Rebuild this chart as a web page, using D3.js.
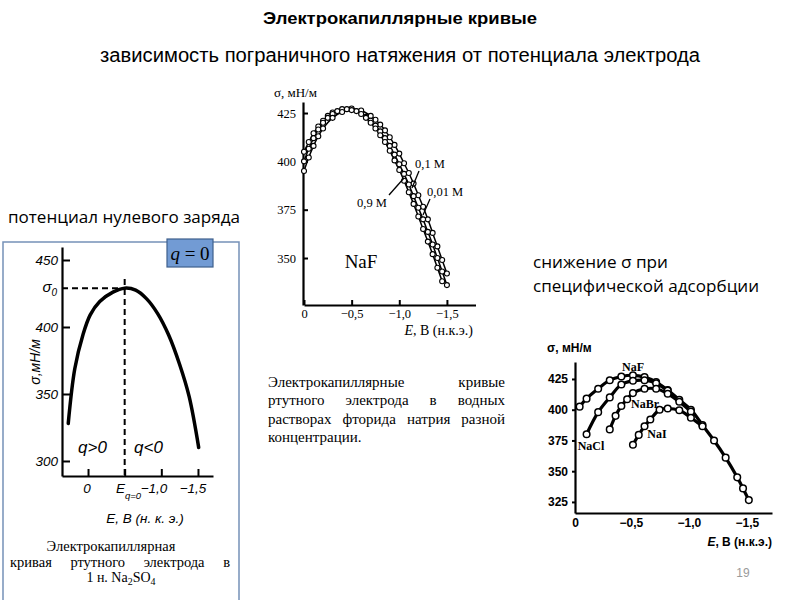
<!DOCTYPE html>
<html><head><meta charset="utf-8">
<script src="https://cdn.jsdelivr.net/npm/d3@7"></script>
<style>
html,body{margin:0;padding:0;background:#fff;}
svg{display:block;}
.serif{font-family:"Liberation Serif","DejaVu Serif",serif;}
.sans{font-family:"Liberation Sans","DejaVu Sans",sans-serif;}
</style>
</head><body>
<svg id="c" width="800" height="600"></svg>
<script>
// ---------------- DATA ----------------
// Left chart: electrocapillary curve of Hg in 1 N Na2SO4
const leftE     = [0.27, 0.18, 0.07, -0.03, -0.16, -0.34, -0.5, -0.65, -0.8, -0.95, -1.1, -1.25, -1.38, -1.51];
const leftSigma = [328, 369, 394, 409, 419, 426, 429, 427.5, 421, 410, 394, 372, 348, 310];
const leftYTicks = [300, 350, 400, 450];
const leftSigma0 = 429;
const leftEq0 = -0.5;

// Middle chart: NaF solutions of different concentration
const naf001E = [0, -0.05, -0.1, -0.15, -0.2, -0.25, -0.3, -0.4, -0.5, -0.6, -0.7, -0.75, -0.8, -0.85, -0.9, -0.95, -1.0, -1.05, -1.1, -1.15, -1.2, -1.25, -1.3, -1.35, -1.4, -1.45, -1.5];
const naf001S = [405, 410, 414.5, 418, 421, 423.5, 425.3, 427, 427.3, 426.3, 423.5, 421.5, 419, 416, 412.5, 408.5, 404, 399, 394, 388.5, 382.5, 376.5, 370, 363, 356, 349, 342];
const naf01E  = [0, -0.05, -0.1, -0.15, -0.2, -0.25, -0.3, -0.35, -0.45, -0.55, -0.65, -0.7, -0.75, -0.8, -0.85, -0.9, -0.95, -1.0, -1.05, -1.1, -1.15, -1.2, -1.25, -1.3, -1.35, -1.4, -1.45, -1.5];
const naf01S  = [400, 406.5, 412, 416.5, 420, 422.5, 424.5, 426, 427, 426, 423, 421, 418.5, 415.5, 412, 408, 403.5, 398.5, 393.5, 388, 382, 376, 370, 363.5, 357, 350, 343, 336];
const naf09E  = [0, -0.05, -0.1, -0.15, -0.2, -0.3, -0.4, -0.5, -0.6, -0.65, -0.7, -0.75, -0.8, -0.85, -0.9, -0.95, -1.0, -1.05, -1.1, -1.15, -1.2, -1.25, -1.3, -1.35, -1.4, -1.45];
const naf09S  = [395, 402, 408, 413, 417, 422.5, 425.5, 426.5, 424.5, 422.5, 420, 417, 413.5, 410, 405.5, 400.5, 395.5, 390, 384, 378, 371.5, 365, 358.5, 352, 345, 338];
const midXTicks = [0, -0.5, -1.0, -1.5];
const midXLabels = ["0", "\u22120,5", "\u22121,0", "\u22121,5"];
const midYTicks = [350, 375, 400, 425];

// Right chart: specific adsorption of halides
const rNaFE  = [-0.04, -0.1, -0.2, -0.3, -0.4, -0.5, -0.6, -0.7, -0.8, -0.9, -1.0, -1.1, -1.2, -1.3, -1.4, -1.45, -1.5];
const rNaFS  = [402.5, 409, 417, 424, 427, 428, 426.5, 422.5, 416, 408, 400, 387.5, 375, 361, 345, 336, 326.5];
const rNaClE = [-0.1, -0.2, -0.3, -0.4, -0.5, -0.6, -0.7, -0.8];
const rNaClS = [380, 398, 410, 420.5, 423.5, 424, 421.5, 415.5];
const rNaBrE = [-0.3, -0.35, -0.4, -0.45, -0.5, -0.6, -0.7, -0.8, -0.9, -1.0];
const rNaBrS = [384, 395, 403, 408.5, 413.5, 417, 417, 413, 406.5, 398.5];
const rNaIE  = [-0.5, -0.55, -0.6, -0.65, -0.73, -0.8, -0.9, -1.0, -1.1];
const rNaIS  = [371.5, 379.5, 386.5, 392, 400, 401, 399.5, 393.5, 386.5];
const rXTicks = [0, -0.5, -1.0, -1.5];
const rXLabels = ["0", "\u22120,5", "\u22121,0", "\u22121,5"];
const rYTicks = [325, 350, 375, 400, 425];

// ---------------- DRAW ----------------
const svg = d3.select("#c");
svg.append("rect").attr("width", 800).attr("height", 600).attr("fill", "#fff");

const zip = (a, b) => a.map((v, i) => [v, b[i]]);

function justify(g, text, x0, x1, y, cls, size) {
  const words = text.split(" ");
  const els = words.map(w => g.append("text").attr("class", cls).attr("font-size", size)
      .attr("y", y).text(w));
  const widths = els.map(e => e.node().getComputedTextLength());
  const total = widths.reduce((a, b) => a + b, 0);
  const gap = words.length > 1 ? (x1 - x0 - total) / (words.length - 1) : 0;
  let x = x0;
  els.forEach((e, i) => { e.attr("x", x); x += widths[i] + gap; });
}

// Titles
svg.append("text").attr("x", 400).attr("y", 24).attr("text-anchor", "middle")
  .attr("font-family", "'Liberation Sans Narrow','Liberation Sans',sans-serif")
  .attr("font-weight", "bold").attr("font-size", 17)
  .attr("textLength", 274).attr("lengthAdjust", "spacingAndGlyphs")
  .text("Электрокапиллярные кривые");
svg.append("text").attr("x", 400).attr("y", 62).attr("text-anchor", "middle")
  .attr("font-family", "'Liberation Sans Narrow','Liberation Sans',sans-serif")
  .attr("font-size", 20)
  .attr("textLength", 600).attr("lengthAdjust", "spacingAndGlyphs")
  .text("зависимость пограничного натяжения от потенциала электрода");

svg.append("text").attr("x", 8).attr("y", 223)
  .attr("font-family", "'Open Sans','Noto Sans',sans-serif").attr("font-size", 16)
  .attr("textLength", 232).attr("lengthAdjust", "spacingAndGlyphs")
  .text("потенциал нулевого заряда");
svg.append("text").attr("x", 533).attr("y", 268)
  .attr("font-family", "'Open Sans','Noto Sans',sans-serif").attr("font-size", 17)
  .attr("textLength", 135).attr("lengthAdjust", "spacingAndGlyphs")
  .text("снижение σ при");
svg.append("text").attr("x", 533).attr("y", 292)
  .attr("font-family", "'Open Sans','Noto Sans',sans-serif").attr("font-size", 17)
  .attr("textLength", 226).attr("lengthAdjust", "spacingAndGlyphs")
  .text("специфической адсорбции");

svg.append("text").attr("x", 743).attr("y", 577).attr("text-anchor", "middle")
  .attr("class", "sans").attr("font-size", 12).attr("fill", "#9a9a9a").text("19");

// ---------- LEFT CHART ----------
{
  const g = svg.append("g");
  g.append("path").attr("d", "M3,600 V242 H167 M213,242 H239 V600")
    .attr("fill", "none").attr("stroke", "#7591b8").attr("stroke-width", 1.5);
  const x = d3.scaleLinear().domain([0.355, -1.705]).range([62, 213]);
  const y = d3.scaleLinear().domain([288.8, 459.7]).range([476, 247]);
  const ax = g.append("g").attr("transform", "translate(62,0)")
    .call(d3.axisLeft(y).tickValues(leftYTicks).tickSizeInner(-8).tickSizeOuter(0).tickPadding(4).tickFormat(d3.format("d")));
  const ax2 = g.append("g").attr("transform", "translate(0,476)")
    .call(d3.axisBottom(x).tickValues([0, -0.5, -1.0, -1.5]).tickSizeInner(-7).tickSizeOuter(0).tickFormat(""));
  [ax, ax2].forEach(a => {
    a.select(".domain").attr("stroke-width", 2.2);
    a.selectAll(".tick line").attr("stroke-width", 2);
  });
  ax.selectAll(".tick text").attr("class", "sans").attr("font-style", "italic").attr("font-size", 13.5);
  const s0 = g.append("text").attr("x", 57).attr("y", y(leftSigma0) + 4).attr("text-anchor", "end")
    .attr("class", "sans").attr("font-style", "italic").attr("font-size", 15);
  s0.append("tspan").text("σ");
  s0.append("tspan").attr("font-size", 10).attr("dy", 4).text("0");
  const lab = (t, xx, anchor) => g.append("text").attr("x", xx).attr("y", 493).attr("text-anchor", anchor)
    .attr("class", "sans").attr("font-style", "italic").attr("font-size", 13.5).text(t);
  lab("0", x(0) - 1, "middle");
  lab("\u22121,0", x(-1.0) + 6, "end");
  lab("\u22121,5", x(-1.5) - 5, "middle");
  const eq = g.append("text").attr("x", 116).attr("y", 493).attr("class", "sans")
    .attr("font-style", "italic").attr("font-size", 13.5);
  eq.append("tspan").text("E");
  eq.append("tspan").attr("font-size", 9.5).attr("dy", 6).text("q=0");
  g.append("line").attr("x1", 62).attr("x2", x(leftEq0)).attr("y1", y(leftSigma0)).attr("y2", y(leftSigma0))
    .attr("stroke", "#000").attr("stroke-width", 2).attr("stroke-dasharray", "6,4");
  g.append("line").attr("x1", x(leftEq0)).attr("x2", x(leftEq0)).attr("y1", 279).attr("y2", 476)
    .attr("stroke", "#000").attr("stroke-width", 2).attr("stroke-dasharray", "6,4");
  g.append("path").datum(zip(leftE, leftSigma))
    .attr("d", d3.line().x(d => x(d[0])).y(d => y(d[1])).curve(d3.curveCatmullRom.alpha(0.5)))
    .attr("fill", "none").attr("stroke", "#000").attr("stroke-width", 3.5).attr("stroke-linecap", "round");
  g.append("text").attr("x", 78).attr("y", 453).attr("class", "sans").attr("font-style", "italic").attr("font-size", 17).text("q>0");
  g.append("text").attr("x", 134).attr("y", 453).attr("class", "sans").attr("font-style", "italic").attr("font-size", 17).text("q<0");
  g.append("text").attr("transform", "translate(40,362) rotate(-90)").attr("text-anchor", "middle")
    .attr("class", "sans").attr("font-style", "italic").attr("font-size", 14).text("σ,мН/м");
  g.append("text").attr("x", 145).attr("y", 523).attr("text-anchor", "middle")
    .attr("class", "sans").attr("font-style", "italic").attr("font-size", 13.5).text("E, B (н. к. э.)");
  g.append("text").attr("x", 111).attr("y", 551).attr("text-anchor", "middle").attr("class", "serif")
    .attr("font-size", 14.5).text("Электрокапиллярная");
  justify(g, "кривая ртутного электрода в", 10, 230, 567, "serif", 14.5);
  const l3 = g.append("text").attr("x", 121).attr("y", 582).attr("text-anchor", "middle").attr("class", "serif").attr("font-size", 14);
  l3.append("tspan").text("1 н. Na");
  l3.append("tspan").attr("font-size", 10).attr("dy", 3).text("2");
  l3.append("tspan").attr("dy", -3).text("SO");
  l3.append("tspan").attr("font-size", 10).attr("dy", 3).text("4");
  g.append("rect").attr("x", 167).attr("y", 239).attr("width", 46).attr("height", 28)
    .attr("fill", "#729bd4").attr("stroke", "#3f5f8c").attr("stroke-width", 1.2);
  const qt = g.append("text").attr("x", 190).attr("y", 260).attr("text-anchor", "middle").attr("class", "serif").attr("font-size", 19);
  qt.append("tspan").attr("font-style", "italic").text("q");
  qt.append("tspan").text(" = 0");
}

// ---------- MIDDLE CHART ----------
{
  const g = svg.append("g");
  const x = d3.scaleLinear().domain([0, -1.8]).range([304, 475.5]);
  const y = d3.scaleLinear().domain([325.7, 430.7]).range([305, 102]);
  const ay = g.append("g").attr("transform", "translate(303,0)")
    .call(d3.axisLeft(y).tickValues(midYTicks).tickSizeInner(-5).tickSizeOuter(0).tickPadding(7).tickFormat(d3.format("d")));
  const axx = g.append("g").attr("transform", "translate(0,305)")
    .call(d3.axisBottom(x).tickValues(midXTicks).tickSizeInner(-5).tickSizeOuter(0).tickPadding(4)
      .tickFormat((d, i) => midXLabels[i]));
  [ay, axx].forEach(a => {
    a.select(".domain").attr("stroke-width", 2.2);
    a.selectAll(".tick line").attr("stroke-width", 2);
    a.selectAll(".tick text").attr("class", "serif").attr("font-size", 12.5);
  });
  const series = [[naf001E, naf001S], [naf01E, naf01S], [naf09E, naf09S]];
  const line = d3.line().x(d => x(d[0])).y(d => y(d[1])).curve(d3.curveCatmullRom.alpha(0.5));
  series.forEach(([e, s]) => {
    g.append("path").datum(zip(e, s)).attr("d", line).attr("fill", "none")
      .attr("stroke", "#000").attr("stroke-width", 1.5);
  });
  series.forEach(([e, s]) => {
    g.selectAll(null).data(zip(e, s)).enter().append("circle")
      .attr("cx", d => x(d[0])).attr("cy", d => y(d[1])).attr("r", 2.5)
      .attr("fill", "#fff").attr("stroke", "#000").attr("stroke-width", 1.1);
  });
  g.append("text").attr("x", 415).attr("y", 168).attr("class", "serif").attr("font-size", 12.5).text("0,1 M");
  g.append("text").attr("x", 427).attr("y", 196).attr("class", "serif").attr("font-size", 12.5).text("0,01 M");
  g.append("text").attr("x", 357).attr("y", 207).attr("class", "serif").attr("font-size", 12.5).text("0,9 M");
  const ll = (a, b, c, d) => g.append("line").attr("x1", a).attr("y1", b).attr("x2", c).attr("y2", d)
    .attr("stroke", "#000").attr("stroke-width", 1.3);
  ll(419, 171, 412, 188);
  ll(430, 199, 423, 215);
  ll(389, 195, 404, 178);
  g.append("text").attr("x", 361).attr("y", 268).attr("text-anchor", "middle").attr("class", "serif").attr("font-size", 19).text("NaF");
  g.append("text").attr("x", 274).attr("y", 97).attr("class", "serif").attr("font-size", 13).text("σ, мН/м");
  const xt = g.append("text").attr("x", 473).attr("y", 335).attr("text-anchor", "end").attr("class", "serif").attr("font-size", 14);
  xt.append("tspan").attr("font-style", "italic").text("E");
  xt.append("tspan").text(", B (н.к.э.)");
  const cap = svg.append("g");
  justify(cap, "Электрокапиллярные кривые", 268, 505, 387, "serif", 15);
  justify(cap, "ртутного электрода в водных", 268, 505, 405, "serif", 15);
  justify(cap, "растворах фторида натрия разной", 268, 505, 424, "serif", 15);
  cap.append("text").attr("x", 268).attr("y", 442).attr("class", "serif").attr("font-size", 15).text("концентрации.");
}

// ---------- RIGHT CHART ----------
{
  const g = svg.append("g");
  const x = d3.scaleLinear().domain([0, -1.7]).range([575, 772]);
  const y = d3.scaleLinear().domain([316, 438.8]).range([513, 362]);
  const ay = g.append("g").attr("transform", "translate(575,0)")
    .call(d3.axisLeft(y).tickValues(rYTicks).tickSizeInner(3).tickSizeOuter(0).tickPadding(4).tickFormat(d3.format("d")));
  const axx = g.append("g").attr("transform", "translate(0,513)")
    .call(d3.axisBottom(x).tickValues(rXTicks).tickSizeInner(0).tickSizeOuter(0).tickPadding(5)
      .tickFormat((d, i) => rXLabels[i]));
  [ay, axx].forEach(a => {
    a.select(".domain").attr("stroke-width", 2.2);
    a.selectAll(".tick line").attr("stroke-width", 2);
    a.selectAll(".tick text").attr("class", "sans").attr("font-size", 12).attr("font-weight", 600);
  });
  axx.selectAll(".tick text").attr("dx", (d, i) => i === 0 ? 0 : -2);
  const line = d3.line().x(d => x(d[0])).y(d => y(d[1])).curve(d3.curveCatmullRom.alpha(0.5));
  const series = [[rNaFE, rNaFS], [rNaClE, rNaClS], [rNaBrE, rNaBrS], [rNaIE, rNaIS]];
  series.forEach(([e, s]) => {
    g.append("path").datum(zip(e, s)).attr("d", line).attr("fill", "none")
      .attr("stroke", "#000").attr("stroke-width", 3.2);
  });
  series.forEach(([e, s]) => {
    g.selectAll(null).data(zip(e, s)).enter().append("circle")
      .attr("cx", d => x(d[0])).attr("cy", d => y(d[1])).attr("r", 3.3)
      .attr("fill", "#fff").attr("stroke", "#000").attr("stroke-width", 1.5);
  });
  const lab = (t, xx, yy) => g.append("text").attr("x", xx).attr("y", yy).attr("text-anchor", "middle")
    .attr("class", "serif").attr("font-weight", "bold").attr("font-size", 12).text(t);
  lab("NaF", 633, 371);
  lab("NaBr", 645, 408);
  lab("NaCl", 591, 450);
  lab("NaI", 657, 438);
  g.append("text").attr("x", 547).attr("y", 352).attr("class", "sans").attr("font-weight", 600).attr("font-size", 12).text("σ, мН/м");
  const xt = g.append("text").attr("x", 772).attr("y", 546).attr("text-anchor", "end").attr("class", "sans").attr("font-weight", 600).attr("font-size", 12);
  xt.append("tspan").attr("font-style", "italic").text("E");
  xt.append("tspan").text(", B (н.к.э.)");
}
</script>
</body></html>
